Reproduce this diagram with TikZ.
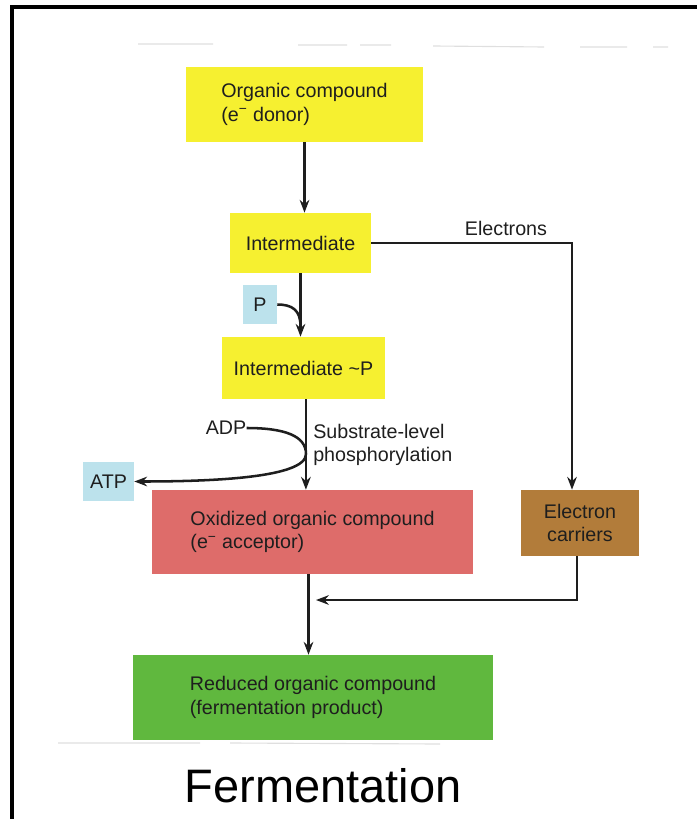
\documentclass[tikz,border=0pt]{standalone}
\usepackage{fontspec}
\setmainfont{Liberation Sans}
\definecolor{fermYellow}{RGB}{246, 240,  48}
\definecolor{fermRed}   {RGB}{222, 108, 106}
\definecolor{fermBrown} {RGB}{178, 124,  58}
\definecolor{fermGreen} {RGB}{ 96, 184,  62}
\definecolor{fermBlue}  {RGB}{188, 226, 236}
\definecolor{fermInk}   {RGB}{ 30,  30,  30}
\newcommand\fermfont{\fontsize{14}{16.7}\selectfont}
\usetikzlibrary{
  arrows.meta,
  positioning,
  calc,
}

\begin{document}
\begin{tikzpicture}[
  x=0.025cm, y=-0.025cm,
  >={Stealth[length=0.32cm, width=0.24cm]},
  cmpd/.style  ={fill=fermYellow, align=left, font=\fermfont,
                 text=fermInk, inner sep=0pt},
  pbox/.style  ={fill=fermBlue, font=\fermfont, text=fermInk, inner sep=0pt},
  link/.style  ={line width=1.8pt, color=fermInk},
  flow/.style  ={->, link},
  lbl/.style   ={font=\fermfont, text=fermInk, align=left, inner sep=0pt},
  scan/.style  ={line width=0.8pt, color=gray!25},
]
  \useasboundingbox (0,0) rectangle (697,819);

  % slide frame (top and left edges only) and faint scan lines
  \draw[line width=2.2pt] (12,819) -- (12,7) -- (697,7);
  \draw[scan] (138,44) -- (213,44) (298,45) -- (347,45) (360,45) -- (391,45)
              (433,46) -- (544,47) (580,47) -- (627,47) (653,47) -- (668,47);
  \draw[scan] (58,743) -- (200,743) (230,743) -- (440,744);

  % main chain of compounds
  \node[cmpd, minimum width=5.925cm, minimum height=1.875cm] (donor)    at (304.5,104.5) {Organic compound\\(e\textsuperscript{−} donor)};
  \node[cmpd, minimum width=3.525cm, minimum height=1.5cm]   (inter)    at (300.5,243)   {Intermediate};
  \node[cmpd, minimum width=4.075cm, minimum height=1.55cm]  (interp)   at (303.5,368)   {Intermediate \textasciitilde P};
  \node[cmpd, fill=fermRed, minimum width=8.025cm, minimum height=2.1cm]
                                                             (acceptor) at (312.5,532)   {Oxidized organic compound\\(e\textsuperscript{−} acceptor)};
  \node[cmpd, fill=fermGreen, minimum width=9cm, minimum height=2.125cm]
                                                             (product)  at (313,697.5)   {Reduced organic compound\\(fermentation product)};

  % side boxes
  \node[pbox, minimum width=0.85cm, minimum height=0.975cm]  (pi)       at (260,304.5)   {P};
  \node[pbox, minimum width=1.275cm, minimum height=0.975cm] (atp)      at (108.5,481.5) {ATP};
  \node[cmpd, fill=fermBrown, align=center, minimum width=2.95cm, minimum height=1.65cm]
                                                             (carriers) at (580,523)     {Electron\\carriers};

  % labels
  \node[lbl] (adp)   at (226,428) {ADP};
  \node[lbl, anchor=west] (slp) at (313,445) {Substrate-level\\phosphorylation};
  \node[lbl] (elec)  at (506,228) {Electrons};

  \coordinate (pjoin) at (300.5,326);
  \coordinate (merge) at (316,600);

  % vertical flow
  \draw[flow] (donor.south) -- (donor.south |- inter.north);
  \draw[flow] (inter.south) -- (inter.south |- interp.north);
  \draw[flow] ([xshift=0.06cm]interp.south) -- ([xshift=0.06cm]interp.south |- acceptor.north);
  \draw[flow] ([xshift=-0.1cm]acceptor.south) -- ([xshift=-0.1cm]acceptor.south |- product.north);

  % phosphate in, ATP out
  \draw[link] (pi.east) .. controls (292,304.5) and (300.5,310) .. (pjoin);
  \draw[flow] (adp.east) .. controls (285,428) and (306,436) .. (306,454)
                         .. controls (306,478) and (210,481.5) .. (atp.east);

  % electron branch
  \draw[flow] (inter.east) -| ([xshift=-0.2cm]carriers.north);
  \draw[flow] ([xshift=-0.075cm]carriers.south) |- (merge);

  \node[font=\fontsize{33.4}{40}\selectfont, inner sep=0pt] (title) at (323,786) {Fermentation};

\end{tikzpicture}
\end{document}
